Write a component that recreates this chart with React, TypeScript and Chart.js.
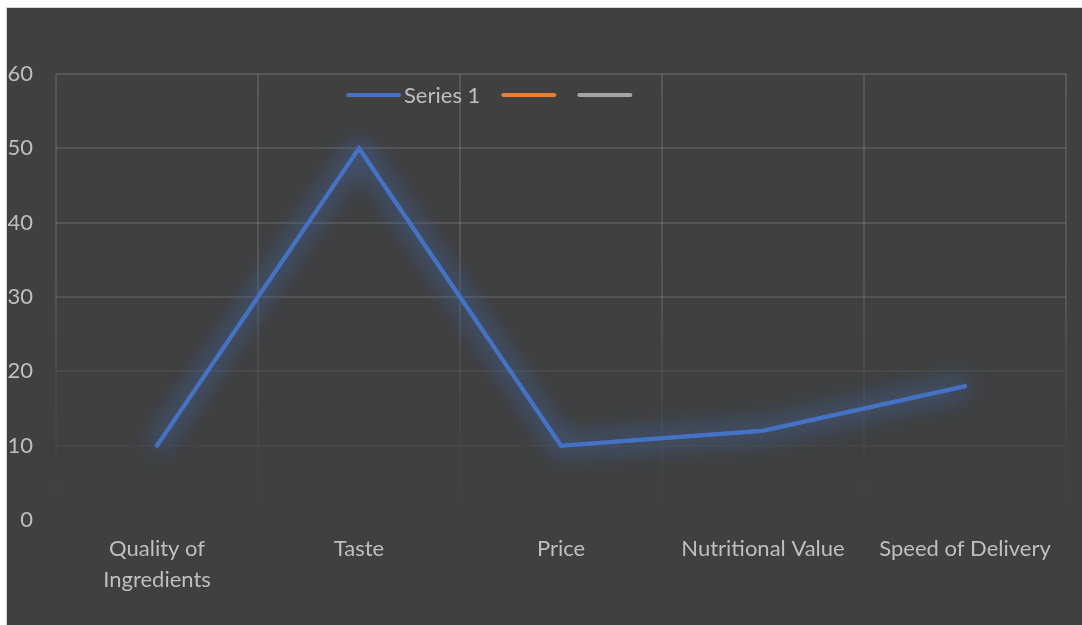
import React, { useEffect, useRef } from "react";
import { Chart, registerables } from "chart.js";

Chart.register(...registerables);

const categories: (string | string[])[] = [
  ["Quality of", "Ingredients"],
  "Taste",
  "Price",
  "Nutritional Value",
  "Speed of Delivery",
];
const series1: number[] = [10, 50, 10, 12, 18];
const series2: (number | null)[] = [];
const series3: (number | null)[] = [];
const seriesNames: string[] = ["Series 1", "", ""];
const seriesColors: string[] = ["#4472C4", "#ED7D31", "#A5A5A5"];
const yMin = 0;
const yMax = 60;
const yStep = 10;

const FONT = "Lato, 'Open Sans', sans-serif";
const TEXT = "#bfbfbf";
const FONT_SIZE = 22;

function gridGradient(chart: any) {
  const area = chart.chartArea;
  if (!area) return "rgba(255,255,255,0.12)";
  const g = chart.ctx.createLinearGradient(0, area.top, 0, area.bottom + 2);
  g.addColorStop(0, "rgba(255,255,255,0.12)");
  g.addColorStop(0.5, "rgba(255,255,255,0.10)");
  g.addColorStop(0.67, "rgba(255,255,255,0.05)");
  g.addColorStop(0.84, "rgba(255,255,255,0.025)");
  g.addColorStop(1, "rgba(255,255,255,0)");
  return g;
}

const glowPlugin = {
  id: "glow",
  beforeDatasetDraw(chart: any, args: any) {
    const ctx = chart.ctx;
    ctx.save();
    ctx.shadowColor = "rgba(68,114,196,1)";
    ctx.shadowBlur = 26;
    // extra pass to thicken the halo
    if (args.index === 0 && args.meta && args.meta.dataset) {
      args.meta.dataset.draw(ctx, chart.chartArea);
    }
  },
  afterDatasetDraw(chart: any) {
    chart.ctx.restore();
  },
};

const legendPlugin = {
  id: "customLegend",
  afterDraw(chart: any) {
    const ctx = chart.ctx;
    const area = chart.chartArea;
    ctx.save();
    ctx.font = `${FONT_SIZE}px ${FONT}`;
    ctx.textBaseline = "middle";
    const y = area.top + 21;
    let x = area.left + 290;
    const lineW = 55;
    chart.data.datasets.forEach((ds: any) => {
      ctx.strokeStyle = ds.borderColor;
      ctx.lineWidth = 4;
      ctx.lineCap = "round";
      ctx.beginPath();
      ctx.moveTo(x + 2, y);
      ctx.lineTo(x + lineW - 2, y);
      ctx.stroke();
      x += lineW;
      if (ds.label) {
        ctx.fillStyle = TEXT;
        ctx.fillText(ds.label, x + 3, y + 1);
        x += 3 + ctx.measureText(ds.label).width;
      }
      x += 21;
    });
    ctx.restore();
  },
};

export default function App() {
  const ref = useRef<HTMLCanvasElement | null>(null);
  useEffect(() => {
    document.documentElement.style.overflow = "hidden";
    document.body.style.overflow = "hidden";
    if (!ref.current) return;
    const datasets = [series1, series2, series3].map((d, i) => ({
      label: seriesNames[i],
      data: d,
      borderColor: seriesColors[i],
      backgroundColor: seriesColors[i],
      borderWidth: 4,
      pointRadius: 0,
      pointHoverRadius: 0,
      borderCapStyle: "round" as const,
      borderJoinStyle: "miter" as const,
      tension: 0,
    }));
    const chart = new Chart(ref.current, {
      type: "line",
      data: { labels: categories, datasets },
      options: {
        animation: false,
        responsive: false,
        layout: { padding: { top: 66, right: 16, left: 0, bottom: 0 } },
        plugins: { legend: { display: false }, tooltip: { enabled: false } },
        scales: {
          x: {
            offset: true,
            grid: {
              offset: true,
              drawTicks: false,
              color: (c: any) => gridGradient(c.chart),
              lineWidth: 2,
            },
            border: { display: false },
            ticks: {
              color: TEXT,
              font: { family: FONT, size: FONT_SIZE, lineHeight: 1.4 },
              padding: 14,
              maxRotation: 0,
              autoSkip: false,
            },
            afterFit: (s: any) => {
              s.height = 106;
            },
          },
          y: {
            min: yMin,
            max: yMax,
            ticks: {
              stepSize: yStep,
              color: TEXT,
              font: { family: FONT, size: FONT_SIZE },
              padding: 23,
            },
            grid: {
              drawTicks: false,
              color: (c: any) => gridGradient(c.chart),
              lineWidth: 2,
            },
            border: { display: false },
            afterFit: (s: any) => {
              s.width = 49;
            },
          },
        },
      },
      plugins: [glowPlugin, legendPlugin],
    });
    return () => chart.destroy();
  }, []);
  return (
    <div
      style={{
        position: "absolute",
        left: 6,
        top: 7,
        borderLeft: "1px solid #d6d6d6",
        borderTop: "1px solid #d6d6d6",
        background: "#404040",
        width: 1075,
        height: 618,
      }}
    >
      <canvas
        ref={ref}
        width={1075}
        height={618}
        style={{ display: "block", width: 1075, height: 618 }}
      />
    </div>
  );
}
